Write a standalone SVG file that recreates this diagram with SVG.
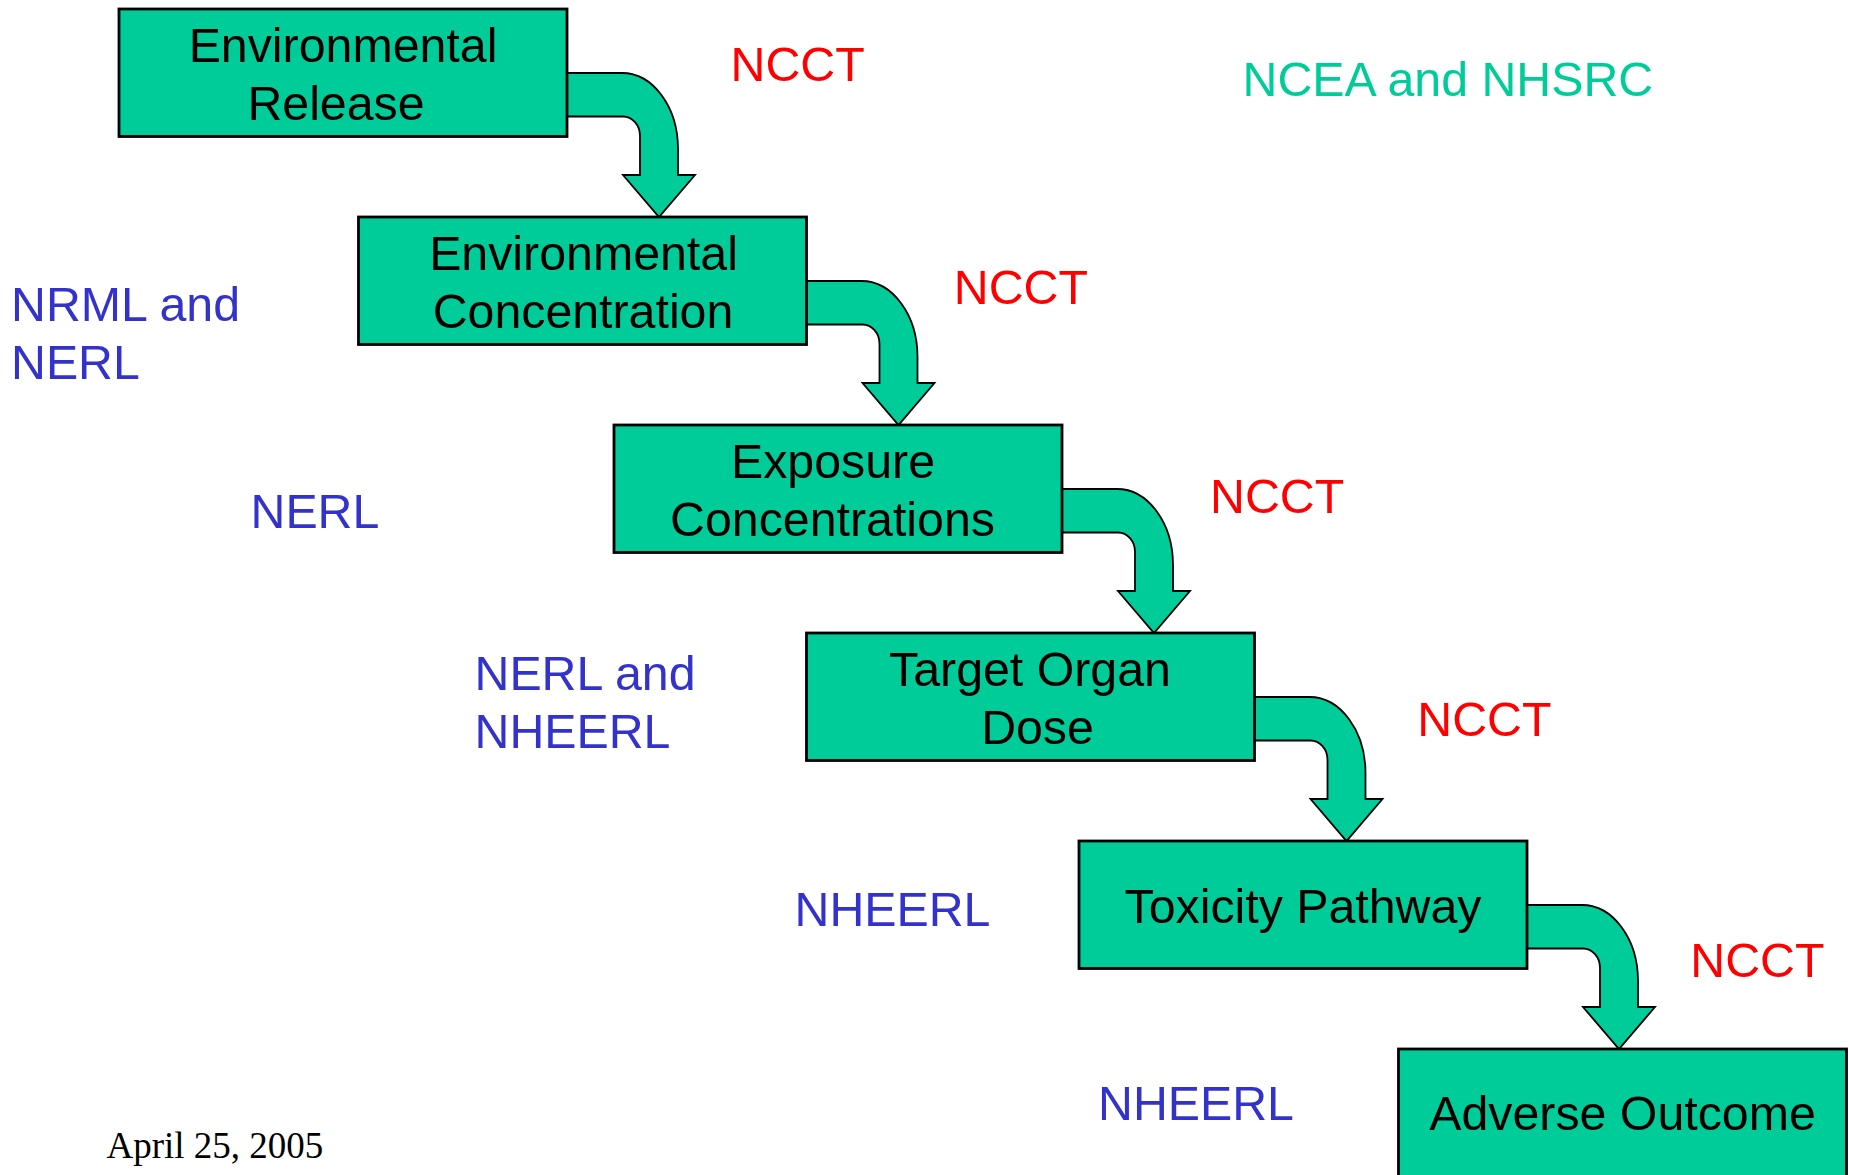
<svg xmlns="http://www.w3.org/2000/svg" width="1849" height="1175" viewBox="0 0 1849 1175">
<style>
.box{fill:#00CC99;stroke:#000;stroke-width:2.8}
.bend{fill:#00CC99;stroke:#000;stroke-width:1.8;stroke-linejoin:miter}
.t{font-family:"Liberation Sans",Arial,sans-serif;font-size:48.3px;fill:#000;text-anchor:middle}
.red{font-family:"Liberation Sans",Arial,sans-serif;font-size:48.3px;fill:#FF0000}
.blue{font-family:"Liberation Sans",Arial,sans-serif;font-size:48.3px;fill:#3333CC}
.teal{font-family:"Liberation Sans",Arial,sans-serif;font-size:48.3px;fill:#00CC99}
.date{font-family:"Liberation Serif","Times New Roman",serif;font-size:37px;fill:#000}
</style>
<defs>
<path id="bend" class="bend" d="M0,64 H55 A56,76 0 0 1 111,140 V166 H128 L92,208 L56,166 H73 V127 A17,19.5 0 0 0 56,107.5 H0 Z"/>
</defs>
<rect width="1849" height="1175" fill="#fff"/>
<g id="connectors">
<use href="#bend" x="567" y="9"/>
<use href="#bend" x="806.5" y="217"/>
<use href="#bend" x="1062" y="425"/>
<use href="#bend" x="1254.5" y="633"/>
<use href="#bend" x="1527" y="841"/>
</g>
<g id="n1"><rect class="box" x="119" y="9" width="448" height="127.5"/>
<text class="t" x="343" y="61.7">Environmental</text><text class="t" x="336" y="120">Release</text></g>
<g id="n2"><rect class="box" x="358.5" y="217" width="448" height="127.5"/>
<text class="t" x="583.5" y="269.7">Environmental</text><text class="t" x="583" y="328">Concentration</text></g>
<g id="n3"><rect class="box" x="614" y="425" width="448" height="127.5"/>
<text class="t" x="833" y="477.7">Exposure</text><text class="t" x="832.5" y="536">Concentrations</text></g>
<g id="n4"><rect class="box" x="806.5" y="633" width="448" height="127.5"/>
<text class="t" x="1030" y="685.7">Target Organ</text><text class="t" x="1037.5" y="744">Dose</text></g>
<g id="n5"><rect class="box" x="1079" y="841" width="448" height="127.5"/>
<text class="t" x="1303" y="923">Toxicity Pathway</text></g>
<g id="n6"><rect class="box" x="1398.5" y="1049" width="448" height="127.5"/>
<text class="t" x="1622.5" y="1130">Adverse Outcome</text></g>
<g id="labels">
<text class="red" x="730.5" y="81">NCCT</text>
<text class="red" x="953.8" y="304">NCCT</text>
<text class="red" x="1210" y="512.5">NCCT</text>
<text class="red" x="1417.3" y="735.5">NCCT</text>
<text class="red" x="1690.3" y="976.5">NCCT</text>
<text class="teal" x="1242.5" y="96">NCEA and NHSRC</text>
<text class="blue" x="11" y="321">NRML and</text>
<text class="blue" x="11" y="379">NERL</text>
<text class="blue" x="250.5" y="528.3">NERL</text>
<text class="blue" x="474.5" y="690">NERL and</text>
<text class="blue" x="474.5" y="747.5">NHEERL</text>
<text class="blue" x="794.5" y="926">NHEERL</text>
<text class="blue" x="1098" y="1120">NHEERL</text>
<text class="date" x="106.5" y="1158">April 25, 2005</text>
</g>
</svg>
